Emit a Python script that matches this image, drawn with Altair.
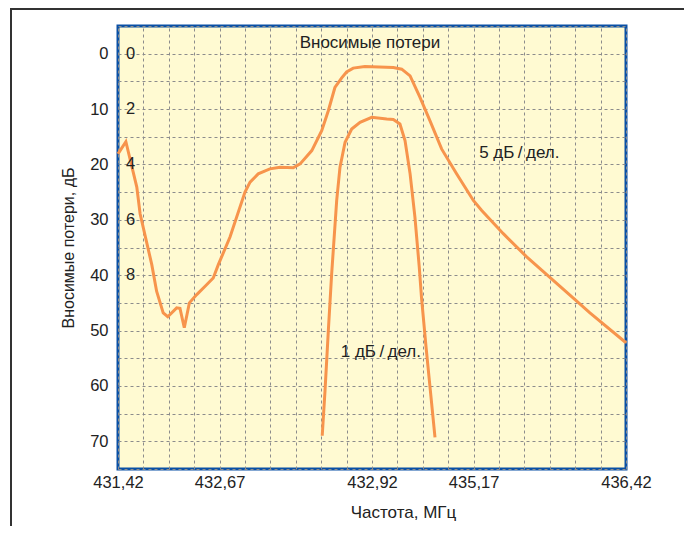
import altair as alt
import pandas as pd

# Axis ticks (x measured in grid divisions, 20 divisions across)
x_grid = list(range(0, 21))
x_tick_pos = [0, 4, 10, 14, 20]
x_tick_labels = ["431,42", "432,67", "432,92", "435,17", "436,42"]
y_grid = list(range(-5, 80, 5))
y_tick_vals = [0, 10, 20, 30, 40, 50, 60, 70]

# Inner scale labels for the 1 dB/div curve
inner_labels = ["0", "2", "4", "6", "8"]
inner_label_y = [0, 10, 20, 30, 40]

# Curve "5 dB/div"
c5_x = [0, 0.31, 0.74, 0.87, 1.33, 1.52, 1.78, 1.96, 2.31, 2.44, 2.61, 2.81, 3.10,
        3.43, 3.75, 3.95, 4.41, 5.0, 5.2, 5.52, 5.98, 6.38, 6.9, 7.17, 7.63, 8.02,
        8.28, 8.54, 8.8, 9.0, 9.26, 9.72, 10.84, 11.17, 11.5, 11.89, 12.28, 12.74,
        13.33, 13.99, 14.32, 15.17, 16.09, 16.88, 18.06, 18.58, 20]
c5_y = [18.1, 15.9, 24.1, 28.9, 38.1, 42.9, 46.8, 47.5, 45.9, 46.0, 49.5, 45.0, 43.5,
        42.0, 40.5, 38.1, 33.1, 25.0, 23.2, 21.7, 20.8, 20.5, 20.6, 19.9, 17.5, 13.9,
        10.3, 6.1, 4.4, 3.3, 2.6, 2.3, 2.5, 2.8, 4.0, 7.9, 12.1, 17.2,
        21.7, 26.5, 28.3, 32.5, 36.7, 39.9, 44.7, 46.8, 52.2]

# Curve "1 dB/div"
c1_x = [8.04, 8.15, 8.28, 8.41, 8.61, 8.74, 8.94, 9.2, 9.53, 9.99, 10.58, 10.84,
        11.1, 11.3, 11.5, 11.69, 11.86, 11.95, 12.13, 12.48]
c1_y = [69.0, 60.9, 50.1, 39.9, 26.5, 20.5, 16.0, 13.6, 12.4, 11.5, 11.8, 11.9,
        12.7, 15.7, 21.7, 29.5, 38.5, 44.1, 53.1, 69.3]

# Annotations
ann_text = ["Вносимые потери", "5 дБ\u2009/\u2009дел.", "1 дБ\u2009/\u2009дел."]
ann_x = [9.92, 15.8, 10.35]
ann_y = [-2.0, 17.9, 53.8]

FONT = "Liberation Sans"
ORANGE = "#f7944c"
TEXT = "#222222"

df5 = pd.DataFrame({"x": c5_x, "y": c5_y})
df1 = pd.DataFrame({"x": c1_x, "y": c1_y})
dfin = pd.DataFrame({"t": inner_labels, "y": inner_label_y, "x": [0.5] * len(inner_labels)})
dfann = pd.DataFrame({"t": ann_text, "x": ann_x, "y": ann_y})

x_expr = " : ".join(
    f"datum.value == {p} ? '{l}'" for p, l in zip(x_tick_pos, x_tick_labels)
) + " : ''"
y_expr = "indexof([" + ",".join(str(v) for v in y_tick_vals) + "], datum.value) >= 0 ? '' + datum.value : ''"


def xenc():
    return alt.X("x:Q", scale=alt.Scale(domain=[0, 20], nice=False, zero=False),
                 axis=alt.Axis(values=x_grid, labelExpr=x_expr, title="Частота, МГц",
                               labelPadding=5, titleX=285, titleY=48,
                               titleBaseline="alphabetic", titleAlign="center",
                               titleFontSize=17, labelFlush=False, labelOverlap=False))


def yenc():
    return alt.Y("y:Q", scale=alt.Scale(domain=[-5, 75], nice=False, zero=False, reverse=True),
                 axis=alt.Axis(values=y_grid, labelExpr=y_expr, title="Вносимые потери, дБ",
                               labelPadding=10, titleX=-45, titleY=221.5, titleAngle=-90,
                               titleBaseline="alphabetic", titleAlign="center",
                               titleFontSize=16, labelOverlap=False, labelFlush=False))


base5 = alt.Chart(df5).mark_line(color=ORANGE, strokeWidth=3).encode(x=xenc(), y=yenc())
line1 = alt.Chart(df1).mark_line(color=ORANGE, strokeWidth=3).encode(x=xenc(), y=yenc())
inner = alt.Chart(dfin).mark_text(font=FONT, fontSize=16.5, color=TEXT, align="center",
                                  baseline="middle").encode(x=xenc(), y=yenc(), text="t:N")
ann = alt.Chart(dfann).mark_text(font=FONT, fontSize=17, color=TEXT, align="center",
                                 baseline="middle").encode(x=xenc(), y=yenc(), text="t:N")

frame_v = alt.Chart(alt.Data(values=[{}])).mark_rule(color="#333333", strokeWidth=2).encode(
    x=alt.value(-107), y=alt.value(-17), y2=alt.value(520))
frame_h = alt.Chart(alt.Data(values=[{}])).mark_rule(color="#333333", strokeWidth=2).encode(
    x=alt.value(-108), x2=alt.value(580), y=alt.value(-17))

chart = alt.layer(base5, line1, inner, ann, frame_v, frame_h).properties(
    width=508, height=443,
    autosize=alt.AutoSizeParams(type="none"),
    padding={"left": 110, "top": 18, "right": 58, "bottom": 57},
    background="white",
).configure_view(
    fill="#fffad2", stroke="#0a50a5", strokeWidth=3,
).configure_axis(
    grid=True, gridDash=[3, 3], gridColor="#8c8c8c", gridWidth=1,
    domain=False, ticks=False,
    labelFont=FONT, labelFontSize=16.5, labelColor=TEXT,
    titleFont=FONT, titleFontWeight="normal", titleColor=TEXT,
)

chart.save("out.html", embed_options={"renderer": "svg", "actions": False})
